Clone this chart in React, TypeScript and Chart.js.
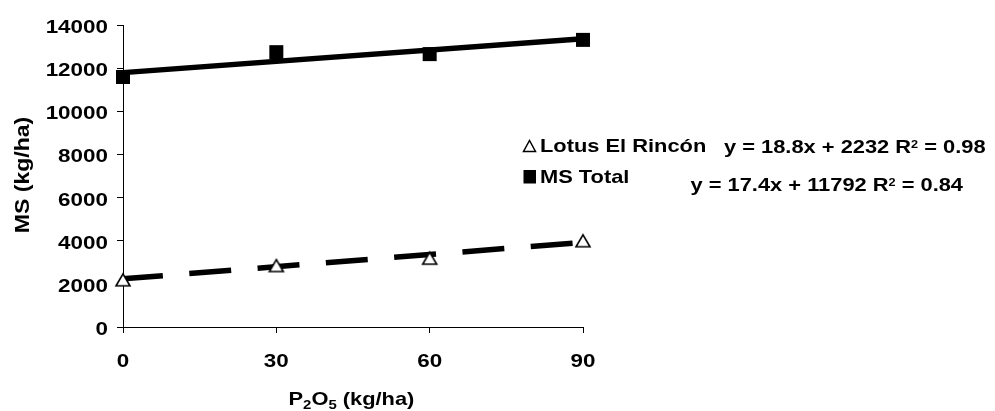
import React, { useEffect, useRef } from 'react';
import { Chart, registerables } from 'chart.js';

Chart.register(...registerables);

const FONT = '"Liberation Sans", Arial, Helvetica, sans-serif';

// ---- data ----
const xValues = [0, 30, 60, 90];
const lotusValues = [2190, 2850, 3190, 4000];
const totalValues = [11590, 12740, 12650, 13310];
const trendX = [0, 90];
const lotusTrend = [2232, 3924];
const totalTrend = [11792, 13358];
const xTickValues = [0, 30, 60, 90];
const yTickValues = [0, 2000, 4000, 6000, 8000, 10000, 12000, 14000];
const seriesNames = ['Lotus El Rincón', 'MS Total'];
const equations = ['y = 18.8x + 2232', 'y = 17.4x + 11792'];
const r2Values = ['0.98', '0.84'];
const yTitle = 'MS (kg/ha)';
const xTitleParts: [string, boolean][] = [
  ['P', false],
  ['2', true],
  ['O', false],
  ['5', true],
  [' (kg/ha)', false],
];

function txt(
  ctx: CanvasRenderingContext2D,
  text: string,
  x: number,
  y: number,
  size: number,
  sx: number,
  align: CanvasTextAlign = 'left',
  rot = 0
): number {
  ctx.save();
  ctx.font = `bold ${size}px ${FONT}`;
  ctx.fillStyle = '#000';
  ctx.textAlign = align;
  ctx.textBaseline = 'alphabetic';
  ctx.translate(x, y);
  if (rot) ctx.rotate(rot);
  ctx.scale(sx, 1);
  ctx.fillText(text, 0, 0);
  const w = ctx.measureText(text).width * sx;
  ctx.restore();
  return w;
}

function makeTriangle(): HTMLCanvasElement {
  const c = document.createElement('canvas');
  c.width = 18;
  c.height = 16;
  const g = c.getContext('2d')!;
  g.beginPath();
  g.moveTo(2, 14);
  g.lineTo(16, 14);
  g.lineTo(9, 2);
  g.closePath();
  g.fillStyle = '#fff';
  g.fill();
  g.lineWidth = 1.6;
  g.strokeStyle = '#000';
  g.lineJoin = 'miter';
  g.stroke();
  return c;
}

const textPlugin = {
  id: 'customTexts',
  afterDraw(chart: any) {
    const ctx: CanvasRenderingContext2D = chart.ctx;
    const xs = chart.scales.x;
    const ys = chart.scales.y;
    const area = chart.chartArea;

    // tick labels
    yTickValues.forEach((v) => {
      txt(ctx, String(v), area.left - 15, ys.getPixelForValue(v) + 8, 19, 1.18, 'right');
    });
    xTickValues.forEach((v) => {
      txt(ctx, String(v), xs.getPixelForValue(v), area.bottom + 39.5, 19, 1.18, 'center');
    });

    // y title
    txt(ctx, yTitle, 28.5, (area.top + area.bottom) / 2 - 1, 20, 1.15, 'center', -Math.PI / 2);

    // x title with subscripts
    let cx = 288.5;
    const xb = 405;
    xTitleParts.forEach(([t, sub]) => {
      cx += txt(ctx, t, cx, sub ? xb + 4 : xb, sub ? 13 : 19, 1.15, 'left');
    });

    // legend
    ctx.save();
    ctx.beginPath();
    ctx.moveTo(523.5, 151.5);
    ctx.lineTo(535.5, 151.5);
    ctx.lineTo(529.5, 140.5);
    ctx.closePath();
    ctx.fillStyle = '#fff';
    ctx.fill();
    ctx.lineWidth = 1.5;
    ctx.strokeStyle = '#000';
    ctx.stroke();
    ctx.fillStyle = '#000';
    ctx.fillRect(523.5, 170, 12.5, 13.5);
    ctx.restore();
    txt(ctx, seriesNames[0], 540, 151.7, 19, 1.15);
    txt(ctx, seriesNames[1], 540, 183, 19, 1.15);

    // equations
    const eqPos = [
      [724, 153.3],
      [690.5, 191.3],
    ];
    equations.forEach((eq, i) => {
      let ex = eqPos[i][0];
      const eb = eqPos[i][1];
      ex += txt(ctx, eq + ' R', ex, eb, 19, 1.15);
      ex += txt(ctx, '2', ex, eb - 5.5, 11, 1.15);
      txt(ctx, ' = ' + r2Values[i], ex, eb, 19, 1.15);
    });
  },
};

export default function App() {
  const ref = useRef<HTMLCanvasElement>(null);

  useEffect(() => {
    if (!ref.current) return;
    const tri = makeTriangle();
    const chart = new Chart(ref.current, {
      type: 'scatter',
      data: {
        datasets: [
          {
            label: seriesNames[0] + ' trend',
            data: trendX.map((x, i) => ({ x, y: lotusTrend[i] })),
            showLine: true,
            borderColor: '#000',
            borderWidth: 5.5,
            borderDash: [42, 26.5],
            borderDashOffset: 2,
            borderCapStyle: 'butt',
            pointRadius: 0,
            order: 2,
            clip: false,
          } as any,
          {
            label: seriesNames[1] + ' trend',
            data: trendX.map((x, i) => ({ x, y: totalTrend[i] })),
            showLine: true,
            borderColor: '#000',
            borderWidth: 5.5,
            pointRadius: 0,
            order: 2,
            clip: false,
          } as any,
          {
            label: seriesNames[0],
            data: xValues.map((x, i) => ({ x, y: lotusValues[i] })),
            pointStyle: tri,
            pointRadius: 7,
            showLine: false,
            order: 1,
            clip: false,
          } as any,
          {
            label: seriesNames[1],
            data: xValues.map((x, i) => ({ x, y: totalValues[i] })),
            pointStyle: 'rect',
            pointRadius: 9.9,
            pointBackgroundColor: '#000',
            pointBorderColor: '#000',
            pointBorderWidth: 0,
            showLine: false,
            order: 1,
            clip: false,
          } as any,
        ],
      },
      options: {
        animation: false,
        responsive: false,
        devicePixelRatio: 1,
        events: [],
        layout: { padding: { top: 25, right: 412, bottom: 0, left: 0 } },
        plugins: {
          legend: { display: false },
          tooltip: { enabled: false },
          title: { display: false },
        },
        scales: {
          x: {
            type: 'linear',
            min: xTickValues[0],
            max: xTickValues[xTickValues.length - 1],
            afterBuildTicks: (s: any) => {
              s.ticks = xTickValues.map((v) => ({ value: v }));
            },
            afterFit: (s: any) => {
              s.height = 84;
            },
            ticks: { display: false },
            grid: { drawOnChartArea: false, drawTicks: true, tickLength: 6, color: '#000', lineWidth: 1 },
            border: { display: true, color: '#000', width: 1 },
          },
          y: {
            type: 'linear',
            min: yTickValues[0],
            max: yTickValues[yTickValues.length - 1],
            afterBuildTicks: (s: any) => {
              s.ticks = yTickValues.map((v) => ({ value: v }));
            },
            afterFit: (s: any) => {
              s.width = 123;
            },
            ticks: { display: false },
            grid: { drawOnChartArea: false, drawTicks: true, tickLength: 6, color: '#000', lineWidth: 1 },
            border: { display: true, color: '#000', width: 1 },
          },
        },
      } as any,
      plugins: [textPlugin],
    });
    return () => chart.destroy();
  }, []);

  return (
    <div style={{ position: 'absolute', left: 0, top: 0, width: 995, height: 411, background: '#fff' }}>
      <canvas ref={ref} width={995} height={411} style={{ display: 'block', width: 995, height: 411 }} />
    </div>
  );
}
